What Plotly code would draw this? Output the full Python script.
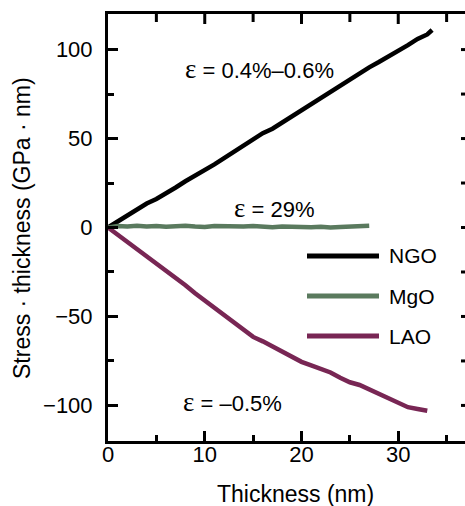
import plotly.graph_objects as go

# ---- data ----
ngo_x = [0, 1, 2, 3, 4, 5, 6, 7, 8, 9, 10, 11, 12, 13, 14, 15, 16, 17, 18, 19, 20,
         21, 22, 23, 24, 25, 26, 27, 28, 29, 30, 31, 32, 33, 33.5]
ngo_y = [0, 3.5, 7, 10.5, 13.5, 16, 19, 22.5, 26, 29, 32, 35.5, 39, 42.5, 46, 49.5, 53,
         55.5, 59, 62.5, 66, 69.5, 73, 76.5, 80, 83, 86.5, 90, 93, 96, 99, 102.5, 106,
         108.5, 111]

mgo_x = [0, 1, 2, 3, 4, 5, 6, 7, 8, 9, 10, 11, 12, 13, 14, 15, 16, 17, 18, 19, 20,
         21, 22, 23, 24, 25, 26, 27]
mgo_y = [0, 0.8, 0.5, 1.0, 0.6, 0.9, 0.4, 0.7, 1.0, 0.5, 0.3, 0.8, 0.6, 0.2, 0.5, 0.9,
         0.4, 0.1, 0.5, 0.3, 0.6, 0.2, 0.4, 0.0, 0.3, 0.5, 0.2, 1.0]

lao_x = [0, 1, 2, 3, 4, 5, 6, 7, 8, 9, 10, 11, 12, 13, 14, 15, 16, 17, 18, 19, 20,
         21, 22, 23, 24, 25, 26, 27, 28, 29, 30, 31, 32, 33]
lao_y = [0, -4, -8.5, -12.5, -16, -20, -24, -28.5, -32.5, -37, -41, -45, -49.5, -53,
         -57.5, -61.5, -64, -67, -69.5, -72.5, -75.5, -77.5, -79.5, -81.5, -84.5, -87,
         -88.5, -91, -93.5, -96, -98.5, -101, -102, -103]

series = [("NGO", ngo_x, ngo_y, "#000000"),
          ("MgO", mgo_x, mgo_y, "#5a7a5e"),
          ("LAO", lao_x, lao_y, "#782654")]

x_ticks = [0, 10, 20, 30]
y_ticks = [-100, -50, 0, 50, 100]
x_top_ticks = [5, 10, 15, 20, 25, 30, 35]
y_right_ticks = [-100, -75, -50, -25, 0, 25, 50, 75, 100]
x_range = [0, 36.9]
y_range = [-120, 120]

W, H = 465, 506
L, R, T, B = 108, 0, 14, 65
pw, ph = W - L - R, H - T - B

fig = go.Figure()
for name, xs, ys, col in series:
    fig.add_trace(go.Scatter(x=xs, y=ys, mode="lines", name=name,
                             line=dict(color=col, width=4.5), showlegend=False))

font = "Liberation Sans, Arial, sans-serif"
serif = "Liberation Serif, Times New Roman, serif"

shapes = []
annotations = []
# mirrored ticks on top (placed through the x axis scale) and on the right edge
for v in x_top_ticks:
    ln = 10 if v % 10 == 0 else 8
    shapes.append(dict(type="line", xref="x", yref="paper", x0=v, x1=v,
                       y0=1, y1=1 - ln / ph, line=dict(color="black", width=3)))
for v in y_right_ticks:
    shapes.append(dict(type="line", xref="paper", yref="y", x0=1 - 4 / pw, x1=1,
                       y0=v, y1=v, line=dict(color="black", width=3)))

# manual legend
leg_rows = [256, 296, 336]
for (name, _, _, col), yp in zip(series, leg_rows):
    shapes.append(dict(type="line", xref="paper", yref="paper",
                       x0=(307 - L) / pw, x1=(379 - L) / pw,
                       y0=1 - (yp - T) / ph, y1=1 - (yp - T) / ph,
                       line=dict(color=col, width=5)))
    annotations.append(dict(xref="paper", yref="paper", x=(387 - L) / pw,
                            y=1 - (yp - T) / ph, text=name, showarrow=False,
                            xanchor="left", yanchor="middle",
                            font=dict(family=font, size=21, color="black")))

def eps(text, xl, yc):
    annotations.append(dict(xref="paper", yref="paper", x=(xl - L) / pw,
                            y=1 - (yc - T) / ph, showarrow=False,
                            xanchor="left", yanchor="middle",
                            text="<span style='font-family:%s;font-size:27px'>ε</span> = %s" % (serif, text),
                            font=dict(family=font, size=22, color="black")))

eps("0.4%–0.6%", 183, 69)
eps("29%", 232, 208)
eps("–0.5%", 181, 402)

# axis titles
annotations.append(dict(xref="paper", yref="paper", x=(295 - L) / pw, y=1 - (494 - T) / ph,
                        text="Thickness (nm)", showarrow=False, xanchor="center",
                        yanchor="middle", font=dict(family=font, size=23, color="black")))
annotations.append(dict(xref="paper", yref="paper", x=(22 - L) / pw, y=1 - (228 - T) / ph,
                        text="Stress · thickness (GPa · nm)", showarrow=False, textangle=-90,
                        xanchor="center", yanchor="middle",
                        font=dict(family=font, size=23, color="black")))

TC = "black"
fig.update_layout(
    width=W, height=H, margin=dict(l=L, r=R, t=T, b=B),
    paper_bgcolor="white", plot_bgcolor="white",
    shapes=shapes, annotations=annotations,
    xaxis=dict(range=x_range, tickvals=x_ticks, ticks="inside", ticklen=10, tickwidth=3,
               tickcolor=TC, showline=True, linewidth=3, linecolor="black",
               mirror=True, showgrid=False, zeroline=False, ticklabelstandoff=-8,
               tickfont=dict(family=font, size=22, color="black"),
               minor=dict(dtick=5, ticks="inside", ticklen=6, tickwidth=3, tickcolor=TC)),
    yaxis=dict(range=y_range, tickvals=y_ticks, ticks="inside", ticklen=10, tickwidth=3,
               tickcolor=TC, showline=True, linewidth=3, linecolor="black",
               mirror=False, showgrid=False, zeroline=False, ticklabelstandoff=8,
               tickfont=dict(family=font, size=22, color="black"),
               minor=dict(dtick=25, ticks="inside", ticklen=6, tickwidth=3, tickcolor=TC)),
)
fig.write_html("out.html")
